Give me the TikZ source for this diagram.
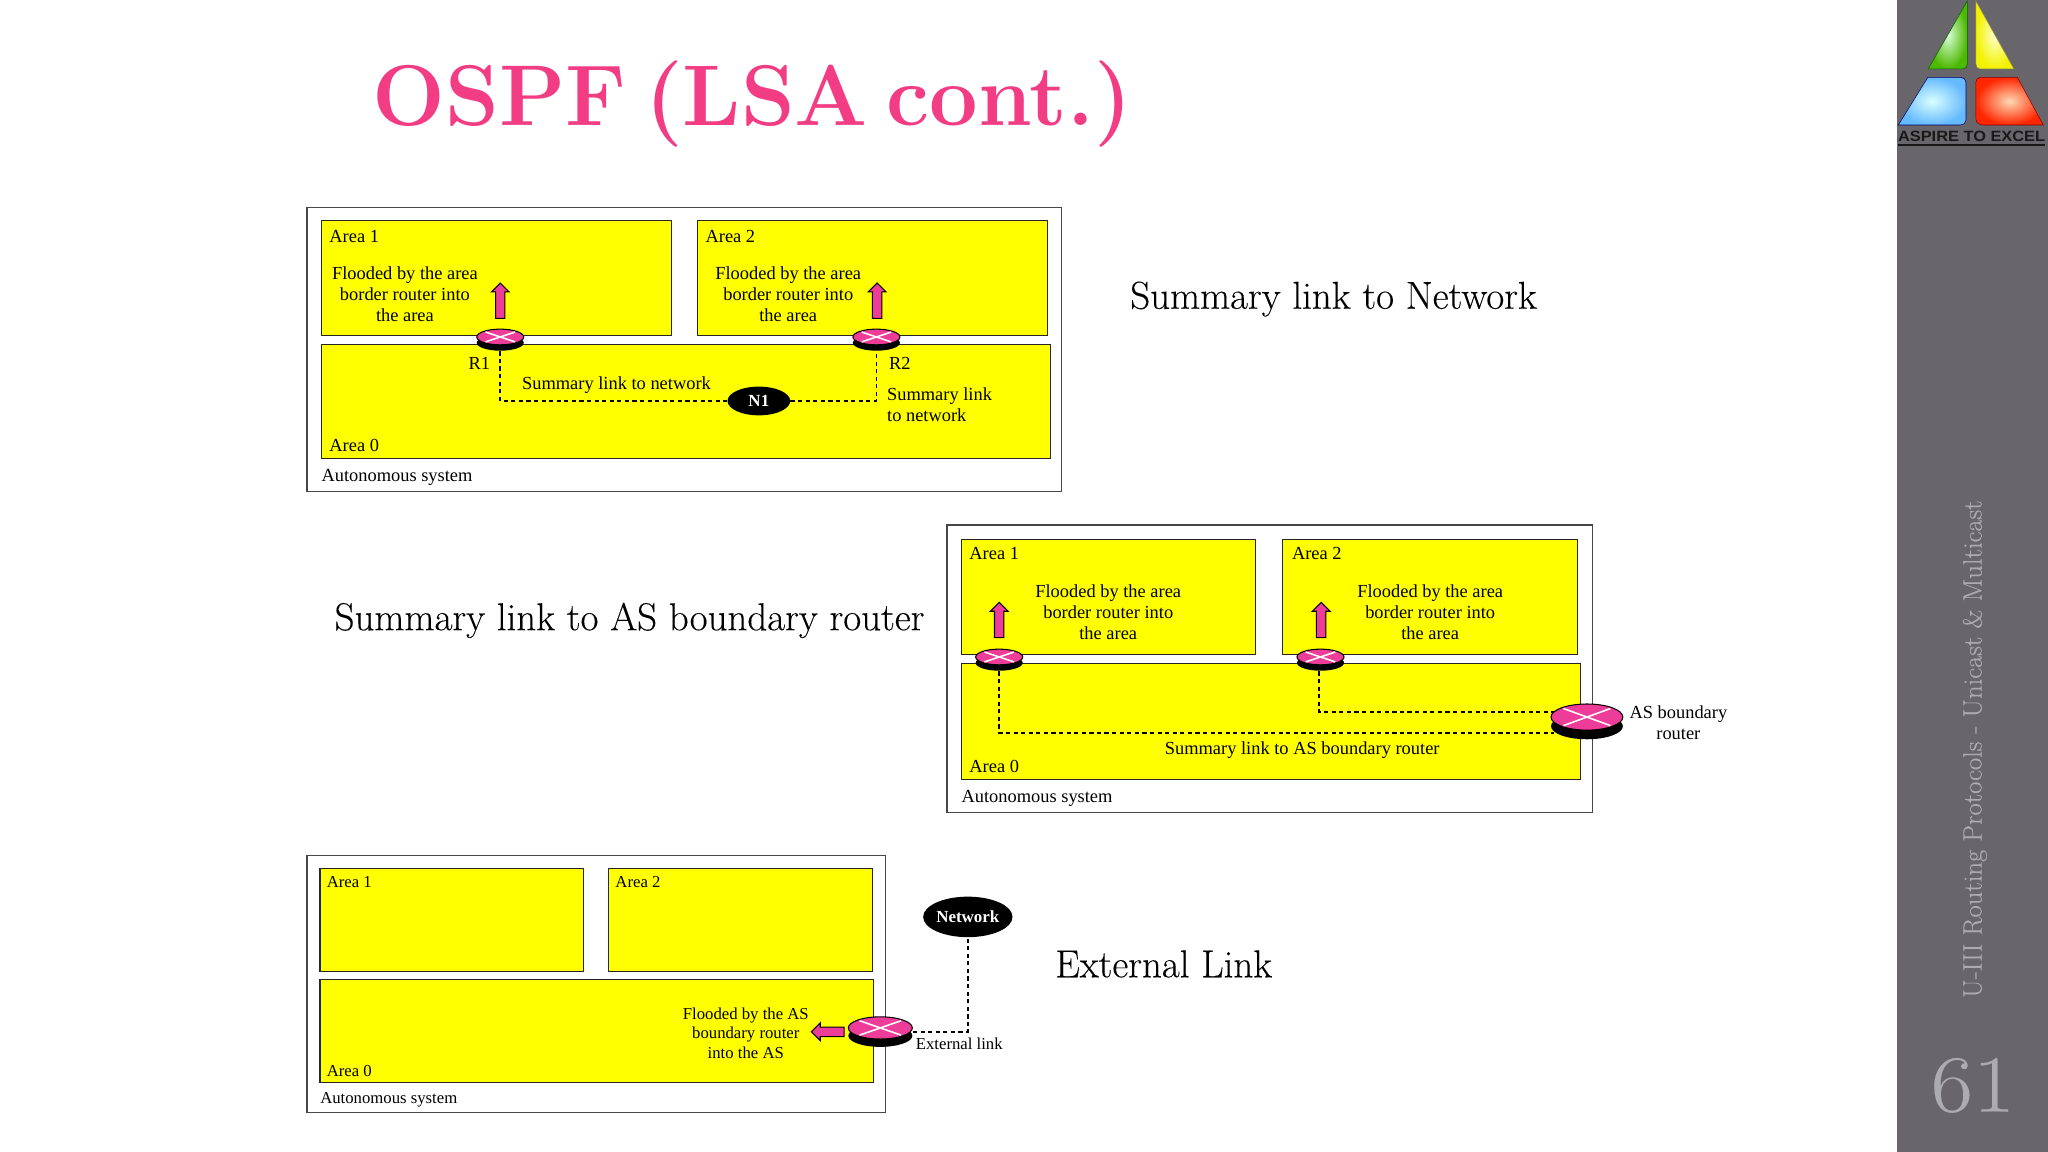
\documentclass[tikz,border=0pt]{standalone}
\usepackage{fontspec}
\usetikzlibrary{shapes.geometric,shapes.arrows,shadows,calc}
\newfontfamily\figfont{Liberation Serif}
\newfontfamily\logofont{Liberation Sans}
\newfontfamily\capfont{Latin Modern Roman}[FakeBold=0.2]

\definecolor{areayellow}{HTML}{FFFF00}
\definecolor{routerpink}{HTML}{EE3D98}
\definecolor{titlepink}{HTML}{F23C84}
\definecolor{sidegrey}{HTML}{68666B}
\definecolor{sidetext}{HTML}{ACACB0}

\tikzstyle{system} = [draw=black!72,line width=0.9pt,fill=white,rectangle,anchor=north west,inner sep=0,outer sep=0]
\tikzstyle{area} = [draw=black!85,line width=0.9pt,fill=areayellow,rectangle,anchor=north west,inner sep=0,outer sep=0]
\tikzstyle{router} = [ellipse,draw=black,line width=0.8pt,fill=routerpink,inner sep=0,outer sep=0]
\tikzstyle{network} = [ellipse,fill=black,text=white,inner sep=0,font=\figfont\bfseries\fontsize{13}{15}\selectfont]
\tikzstyle{flood} = [single arrow,draw=black,line width=0.8pt,fill=routerpink,inner xsep=0,inner ysep=3.2pt,
  single arrow head extend=3.2,single arrow head indent=0,minimum height=27]
\tikzstyle{link} = [line width=1.2pt,dash pattern=on 3.2pt off 2.6pt]
\tikzstyle{crossline} = [white,line width=1.2pt,shorten >=1.5pt,shorten <=1.5pt]
\tikzstyle{txt} = [inner sep=0,align=center,font=\figfont\fontsize{14.1}{16}\selectfont]
\tikzstyle{small} = [inner sep=0,align=center,font=\figfont\fontsize{12.8}{14.8}\selectfont]
\tikzstyle{caption} = [inner sep=0,font=\capfont\fontsize{29.8}{34}\selectfont]

\begin{document}
\begin{tikzpicture}[x=1pt,y=-1pt]
\useasboundingbox (0,0) rectangle (1568,882);

% Sidebar
\fill [sidegrey] (1452,0) rectangle (1568,882);
\node [inner sep=0,rotate=90,text=sidetext,font=\capfont\fontsize{20.4}{22}\selectfont] (unit) at (1512,573.5) {U-III Routing Protocols - Unicast \& Multicast};
\node [inner sep=0,text=sidetext,xscale=1.13,font=\capfont\fontsize{62}{64}\selectfont] (page) at (1510.5,831) {61};

% Logo
\shade [outer color=green!60!black!70!yellow,inner color=white!85!green,draw=black!60!green] (1506.2,0.8) -- (1476.3,52.8) -- (1503,52.8) to [out=0,in=270] (1506.2,49) -- cycle;
\shade [outer color=yellow!95!black,inner color=white!80!yellow,draw=black!50!yellow] (1512.8,0.8) -- (1541.9,52.8) -- (1516,52.8) to [out=180,in=270] (1512.8,49) -- cycle;
\shade [outer color=cyan!55!blue!60,inner color=white!85!cyan,draw=black!60!blue] (1476,59.2) -- (1501,59.2) to [out=0,in=90] (1505.2,63) -- (1505.2,92) to [out=270,in=0] (1501,95.7) -- (1453.4,95.7) -- cycle;
\shade [outer color=red!70!orange,inner color=white!70!orange,draw=black!50!red] (1516,59.2) -- (1544.5,59.2) -- (1564.4,95.7) -- (1518,95.7) to [out=180,in=270] (1512.8,91) -- (1512.8,63) to [out=90,in=180] cycle;
\node [inner sep=0,text=black!90,xscale=1.1,font=\logofont\bfseries\fontsize{11.4}{12}\selectfont] (motto) at (1509.5,104.5) {ASPIRE TO EXCEL};
\draw [black!90,line width=1.2pt] (1453,111) -- (1566,111);

% Title
\node [inner sep=0,text=titlepink,font=\bfseries\fontsize{66}{72}\selectfont] (title) at (576,80) {\spaceskip=14pt\relax OSPF (LSA cont.)};

% Captions
\node [caption] (cap1) at (1021,229) {Summary link to Network};
\node [caption] (cap2) at (482,475) {Summary link to AS boundary router};
\node [caption] (cap3) at (891,738) {External Link};

% First system
\node [system,minimum width=578,minimum height=217] (as1) at (235,159) {};
\node [area,minimum width=268,minimum height=88] (a11) at (246,169) {};
\node [area,minimum width=268,minimum height=88] (a12) at (534,169) {};
\node [area,minimum width=558,minimum height=87] (a10) at (246,264) {};
\node [txt,anchor=west] (t11) at (252,181) {Area 1};
\node [txt,anchor=west] (t12) at (540,181) {Area 2};
\node [txt,anchor=west] (t10) at (252,341) {Area 0};
\node [txt,anchor=west] (ta1) at (246,365.5) {Autonomous system};
\node [txt] (f11) at (310,225) {Flooded by the area\\border router into\\the area};
\node [txt] (f12) at (603.5,225) {Flooded by the area\\border router into\\the area};
\node [txt] (nr1) at (367,278) {R1};
\node [txt] (nr2) at (689,278) {R2};
\node [txt] (s11) at (472,295) {Summary link to network};
\node [txt,align=left,anchor=west] (s12) at (679,310) {Summary link\\to network};
\node [router,minimum width=36,minimum height=12,drop shadow={shadow xshift=0pt,shadow yshift=-4.5pt,fill=black,opacity=1}] (r1) at (383,258) {};
\node [router,minimum width=36,minimum height=12,drop shadow={shadow xshift=0pt,shadow yshift=-4.5pt,fill=black,opacity=1}] (r2) at (671,258) {};
\node [network,minimum width=48,minimum height=22] (n1) at (581,307) {N1};
\node [flood,rotate=90] (up1) at (383,232) {};
\node [flood,rotate=90] (up2) at (671.5,232) {};
\draw [link] ($(r1.south)+(0,5)$) |- (n1);
\draw [link] (n1) -| ($(r2.south)+(0,5)$);

% Second system
\node [system,minimum width=494,minimum height=220] (as2) at (725,402) {};
\node [area,minimum width=225,minimum height=88] (a21) at (736,413) {};
\node [area,minimum width=226,minimum height=88] (a22) at (982,413) {};
\node [area,minimum width=474,minimum height=89] (a20) at (736,508) {};
\node [txt,anchor=west] (t21) at (742,424) {Area 1};
\node [txt,anchor=west] (t22) at (989,424) {Area 2};
\node [txt,anchor=west] (t20) at (742,587) {Area 0};
\node [txt,anchor=west] (tb1) at (736,611) {Autonomous system};
\node [txt] (f21) at (848.5,469) {Flooded by the area\\border router into\\the area};
\node [txt] (f22) at (1095,469) {Flooded by the area\\border router into\\the area};
\node [txt] (s21) at (997,574) {Summary link to AS boundary router};
\node [txt] (nb) at (1285,553) {AS boundary\\router};
\node [router,minimum width=36,minimum height=12,drop shadow={shadow xshift=0pt,shadow yshift=-4.5pt,fill=black,opacity=1}] (r3) at (765,503) {};
\node [router,minimum width=36,minimum height=12,drop shadow={shadow xshift=0pt,shadow yshift=-4.5pt,fill=black,opacity=1}] (r4) at (1011,503) {};
\coordinate (b1) at (1190,561);
\coordinate (b2) at (1190,545);
\draw [link] ($(r3.south)+(0,5)$) |- (b1);
\draw [link] ($(r4.south)+(-1,5)$) |- (b2);
\node [router,minimum width=55,minimum height=20,drop shadow={shadow xshift=0pt,shadow yshift=-7pt,fill=black,opacity=1}] (r5) at (1215,549) {};
\node [flood,rotate=90] (up3) at (765,476.5) {};
\node [flood,rotate=90] (up4) at (1011.5,476.5) {};

% Third system
\node [system,minimum width=443,minimum height=197] (as3) at (235,655) {};
\node [area,minimum width=202,minimum height=79] (a31) at (245,665) {};
\node [area,minimum width=202,minimum height=79] (a32) at (466,665) {};
\node [area,minimum width=424,minimum height=79] (a30) at (245,750) {};
\node [small,anchor=west] (t31) at (250,675) {Area 1};
\node [small,anchor=west] (t32) at (471,675) {Area 2};
\node [small,anchor=west] (t30) at (250,820) {Area 0};
\node [small,anchor=west] (tc1) at (245,842) {Autonomous system};
\node [small] (f31) at (571,791) {Flooded by the AS\\boundary router\\into the AS};
\node [small,anchor=west] (s31) at (701,799) {External link};
\node [network,minimum width=64,minimum height=31] (n2) at (741,702) {Network};
\node [router,minimum width=49,minimum height=17,drop shadow={shadow xshift=0pt,shadow yshift=-6pt,fill=black,opacity=1}] (r6) at (674,787) {};
\coordinate (c1) at (741,790);
\draw [link] (699,790) -- (c1) -- (n2);
\node [flood,rotate=180,minimum height=25] (left1) at (635.5,790) {};

% Router crosses
\foreach \r in {r1,r2,r3,r4,r5,r6}{
  \draw [crossline] (\r.north west) -- (\r.south east);
  \draw [crossline] (\r.south west) -- (\r.north east);
}

\end{tikzpicture}
\end{document}
